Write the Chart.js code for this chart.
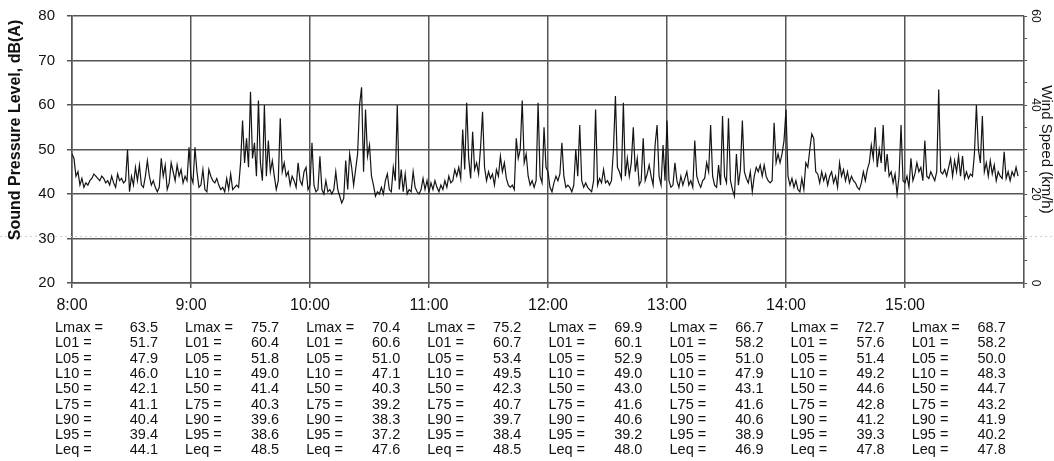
<!DOCTYPE html>
<html><head><meta charset="utf-8">
<script src="https://cdn.jsdelivr.net/npm/chart.js@4.4.1/dist/chart.umd.min.js"></script>
<style>html,body{margin:0;padding:0;background:#fff}#wrap{width:1054px;height:461px;position:relative}canvas{display:block}</style>
</head><body><div id="wrap"><canvas id="c" width="1054" height="461"></canvas></div>
<script>
// 1-minute sound pressure levels, dB(A), one array per hour starting 8:00
const h08 = [49,48,44,45,42,43.5,41.5,42.5,42,43, 43.5,44.5,44,43.5,43,44,43.5,42.5,43,42, 44,42.5,41.5,44.5,43,43.5,42.5,43,50,40.5, 44,42,46,43,46.5,42,41.5,44,47.5,44, 42,43,41.5,40.5,41.5,48,44,46.5,41,42.5, 47,45,43,46.5,44,45.5,42.5,44,43,50.5];
const h09 = [44,42.5,50.5,45,41.5,42,45.5,41,40.5,45.5, 44,43,42.5,43.5,42,41,41.5,40.5,43.5,41, 44.5,41,41.5,42,41.5,47,56.5,47,52.5,46, 63,48,51.5,44,61,47,43,60,44,52, 45,47.5,44,41,43,57,45,47,44,45, 42,44,43,41.5,47,43,42,45,46,41];
const h10 = [42,51.5,42,40.5,41,48.5,41,40,43,40.5, 41,40,41,45,41,39.5,38,39,47.5,41, 49,46,42,45.5,49,60,64,45,59,48.5, 51,44,42,39.5,40.5,40,41.5,40,43,44.5, 41,40.5,46,43,60,41,45.5,40.5,44.5,40, 41,40.5,45,41.5,40.5,40,41,43.5,41,43];
const h11 = [40.5,42.5,41,43,41.5,40.5,42,41,43,41.5, 44,42.5,43,45.5,44,46,43.5,54.5,45.5,60.5, 48,43.5,54,45.5,47,44.5,50.5,58.5,46,43, 45,43.5,44.5,42,45.5,44,48.5,45,47,43.5, 42,41.5,42,41,52.5,48,50,61,47,49, 44,42,43,41.5,43,60.5,44,42.5,55,46];
const h12 = [45,41.5,40.5,42.5,44,43,44.5,51.5,44,41.5, 42,41.5,40.5,42,50,44,55.5,43,41.5,42.5, 41.5,41,40.5,43,59,42,43.5,42.5,45.5,42.5, 43,42,43,50,62,46,45,43.5,60.5,44, 48,44,47,55,45,48,42,43,52.5,43, 44.5,46.5,44,42,51,55.5,44,42,51,43];
const h13 = [56.5,43,41.5,42,47,43,41.5,44,42,43.5, 45,42,43,41.5,52,44,42.5,41.5,43,43.5, 47,45,55.5,44,42,41.5,46.5,42,57.5,44, 42.5,57,43,41,39.5,49,42,45.5,56.5,45, 43.5,42.5,45,40.5,44,46,45,46.5,44,46.5, 44,43,42.5,43,56,47,49,47,49,52];
const h14 = [59,44,42,43.5,41.5,43,41,40.5,43.5,41, 47,46,50,53.5,52.5,45,44.5,42.5,45,43, 44.5,42,44,45,42.5,44,41.5,47,44,45.5, 43,45,42.5,44,43,42.5,41.5,41,42.5,45, 43,45.5,47,51,48,55,46,50,47,55.5, 45,49,44,45,42.5,44.5,40,44,55.5,43];
const h15 = [42.5,44,41.5,48,43,44.5,47,45,46,43, 52,44,43.5,45,44,43,45,63.5,45,44.5, 45.5,44,46,48,44,47.5,45,48.5,44,48.5, 43.5,45,43.5,44.5,44,49,60,50,47,57.5, 45,47,44,47.5,44.5,46.5,43,45,44,43.5, 49.5,43.5,45,43,45,44,46,44];

const startHour = 8;
const hourTickLabels = ['8:00','9:00','10:00','11:00','12:00','13:00','14:00','15:00'];
const windTickLabels = [0, 20, 40, 60];
const faintLineLevel = 30.6;

// Hourly statistics table
const statNames = ['Lmax =','L01 =','L05 =','L10 =','L50 =','L75 =','L90 =','L95 =','Leq ='];
const lmax = [63.5,75.7,70.4,75.2,69.9,66.7,72.7,68.7];
const l01  = [51.7,60.4,60.6,60.7,60.1,58.2,57.6,58.2];
const l05  = [47.9,51.8,51.0,53.4,52.9,51.0,51.4,50.0];
const l10  = [46.0,49.0,47.1,49.5,49.0,47.9,49.2,48.3];
const l50  = [42.1,41.4,40.3,42.3,43.0,43.1,44.6,44.7];
const l75  = [41.1,40.3,39.2,40.7,41.6,41.6,42.8,43.2];
const l90  = [40.4,39.6,38.3,39.7,40.6,40.6,41.2,41.9];
const l95  = [39.4,38.6,37.2,38.4,39.2,38.9,39.3,40.2];
const leq  = [44.1,48.5,47.6,48.5,48.0,46.9,47.8,47.8];
const statRows = [lmax,l01,l05,l10,l50,l75,l90,l95,leq];

const levels = [].concat(h08,h09,h10,h11,h12,h13,h14,h15);
const points = levels.map((v,i)=>({x:i, y:v}));

const FONT = '"Liberation Sans", Arial, Helvetica, sans-serif';
const GRID = '#555555';
const TEXT = '#111';

const overlay = {
  id: 'overlay',
  beforeDatasetsDraw(chart){
    const {ctx, scales:{y}} = chart;
    const py = Math.round(y.getPixelForValue(faintLineLevel)) + 0.5;
    ctx.save();
    ctx.strokeStyle = '#cfcfcf'; ctx.lineWidth = 1; ctx.setLineDash([2,3]);
    ctx.beginPath(); ctx.moveTo(0,py); ctx.lineTo(chart.width,py); ctx.stroke();
    ctx.restore();
  },
  afterDraw(chart){
    const {ctx, chartArea, scales:{y, y2}} = chart;
    ctx.save();
    ctx.fillStyle = TEXT;
    // left axis title
    ctx.save();
    ctx.translate(16, 130); ctx.rotate(-Math.PI/2);
    ctx.font = 'bold 16px ' + FONT; ctx.textAlign='center'; ctx.textBaseline='middle';
    ctx.fillText('Sound Pressure Level, dB(A)', 0, 0);
    ctx.restore();
    // right axis tick labels (rotated clockwise)
    ctx.font = '12px ' + FONT;
    windTickLabels.forEach(v=>{
      ctx.save();
      ctx.translate(chartArea.right + 11, y2.getPixelForValue(v)); ctx.rotate(Math.PI/2);
      ctx.textAlign='center'; ctx.textBaseline='middle';
      ctx.fillText(String(v), 0, 0);
      ctx.restore();
    });
    // right axis title
    ctx.save();
    ctx.translate(chartArea.right + 22, (chartArea.top+chartArea.bottom)/2); ctx.rotate(Math.PI/2);
    ctx.font = '15px ' + FONT; ctx.textAlign='center'; ctx.textBaseline='middle';
    ctx.fillText('Wind Speed (km/h)', 0, 0);
    ctx.restore();
    // statistics table
    ctx.font = '14.5px ' + FONT; ctx.textBaseline='middle';
    const colStep = 121.1, firstValueRight = 158, rowTop = 328, rowStep = 15.3;
    for (let i=0;i<lmax.length;i++){
      const vr = firstValueRight + i*colStep;
      const lx = vr - 94 - (i===0 ? 9 : 0);
      statRows.forEach((row,r)=>{
        const ty = rowTop + r*rowStep;
        ctx.textAlign='left'; ctx.fillText(statNames[r], lx, ty);
        ctx.textAlign='right'; ctx.fillText(row[i].toFixed(1), vr, ty);
      });
    }
    ctx.restore();
  }
};

new Chart(document.getElementById('c'), {
  type: 'line',
  data: { datasets: [{ data: points, borderColor: '#141414', borderWidth: 1.2, pointRadius: 0, tension: 0, fill: false }] },
  options: {
    responsive: false, animation: false, devicePixelRatio: 1,
    layout: { padding: { top: 16, left: 0, right: 0, bottom: 0 } },
    plugins: { legend: { display: false }, tooltip: { enabled: false } },
    scales: {
      x: {
        type: 'linear', min: 0, max: 480, position: 'bottom',
        ticks: { stepSize: 60, autoSkip: false, maxRotation: 0, minRotation: 0, padding: 8, color: TEXT,
                 font: { family: FONT, size: 16 },
                 callback: v => hourTickLabels[Math.round(v/60)] || '' },
        grid: { color: GRID, lineWidth: 1.5, tickLength: 5, tickColor: GRID },
        border: { display: true, color: GRID, width: 1.5 },
        afterFit: s => { s.height = 178; s.paddingLeft = 0; s.paddingRight = 0; }
      },
      y: {
        position: 'left', min: 20, max: 80,
        ticks: { stepSize: 10, padding: 12, color: TEXT, font: { family: FONT, size: 15 } },
        grid: { color: GRID, lineWidth: 1.5, tickLength: 5, tickColor: GRID },
        border: { display: true, color: GRID, width: 1.5 },
        afterFit: s => { s.width = 72; s.paddingTop = 0; s.paddingBottom = 0; }
      },
      y2: {
        position: 'right', min: 0, max: 60,
        ticks: { stepSize: 5, display: false },
        grid: { drawOnChartArea: false, tickLength: 3, color: GRID, tickColor: GRID },
        border: { display: true, color: GRID, width: 1.2 },
        afterFit: s => { s.width = 30; s.paddingTop = 0; s.paddingBottom = 0; }
      }
    }
  },
  plugins: [overlay]
});
</script>
</body></html>
